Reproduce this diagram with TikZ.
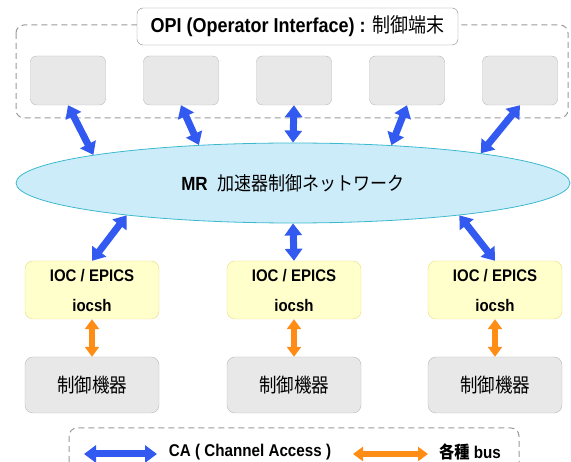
\documentclass[tikz,border=0pt]{standalone}
\usepackage{fontspec}
\setmainfont{Liberation Sans}
\newfontfamily\cjk{Noto Sans CJK JP}
\usepackage{xcolor}
\usepackage{graphicx}
\usetikzlibrary{positioning,arrows.meta,shapes.geometric}
\definecolor{caBlue}{RGB}{50,90,240}
\definecolor{busOrange}{RGB}{255,140,20}
\definecolor{boxGray}{RGB}{232,232,232}
\definecolor{boxEdge}{RGB}{185,185,185}
\definecolor{netFill}{RGB}{204,236,250}
\definecolor{netEdge}{RGB}{60,185,205}
\definecolor{iocFill}{RGB}{255,255,204}
\definecolor{iocEdge}{RGB}{235,220,130}
\newcommand{\tallTxt}[1]{\scalebox{1}[1.12]{#1}}
\begin{document}
\begin{tikzpicture}[
          x=1pt, y=-1pt,
          opibox/.style={draw=boxEdge, fill=boxGray, rounded corners=6pt, minimum width=75pt, minimum height=49pt, inner sep=0pt},
          iocbox/.style={draw=iocEdge, fill=iocFill, rounded corners=8pt, minimum width=134pt, minimum height=58pt, inner sep=0pt, align=center, font=\bfseries\fontsize{15}{30}\selectfont},
          devbox/.style={draw=boxEdge, fill=boxGray, rounded corners=8pt, minimum width=134pt, minimum height=56pt, inner sep=0pt, font=\cjk\fontsize{17.5}{20}\selectfont},
          dashframe/.style={draw=gray!80, dashed, dash pattern=on 6pt off 4pt, line width=1pt, rounded corners=8pt},
          caarrow/.style={draw=caBlue, line width=7pt, {Triangle[width=17pt,length=12pt]}-{Triangle[width=17pt,length=12pt]}, caBlue},
          busarrow/.style={draw=busOrange, line width=6pt, {Triangle[width=14pt,length=10pt]}-{Triangle[width=14pt,length=10pt]}, busOrange},
          lbl/.style={font=\bfseries\fontsize{15.2}{18}\selectfont}
      ]
        \useasboundingbox (0,0) rectangle (571,462);
        \clip (0,0) rectangle (571,462);
        % operator terminals
        \draw[dashframe] (16,25) rectangle (568,118);
        \node[draw=gray!90, fill=white, rounded corners=6pt, minimum width=321pt, minimum height=37pt, inner sep=0pt, font=\bfseries\fontsize{18}{20}\selectfont] (title) at (297.5,26.5) {\tallTxt{OPI (Operator Interface) : {\cjk\mdseries 制御端末}}};
        \foreach \i/\x in {1/68,2/181,3/294,4/407,5/520}
          \node[opibox] (o\i) at (\x,80.5) {};
        % network
        \node[ellipse, draw=netEdge, fill=netFill, line width=0.8pt, minimum width=554pt, minimum height=80pt, inner sep=0pt] (net) at (293,183)
          {\fontsize{17}{20}\selectfont\tallTxt{\textbf{MR}\hspace{10pt}{\cjk 加速器制御ネットワーク}}};
        % IOCs and devices
        \foreach \i/\x in {1/92,2/294,3/495} {
          \node[iocbox] (ioc\i) at (\x,290) {\tallTxt{IOC / EPICS}\\\tallTxt{iocsh}};
          \node[devbox] (dev\i) at (\x,385) {\tallTxt{制御機器}};
        }
        \draw[caarrow] (o1.south) -- (net.172);
        \draw[caarrow] (o2.south) -- (net.158);
        \draw[caarrow] (o3.south) -- (net.90);
        \draw[caarrow] (o4.south) -- (net.21);
        \draw[caarrow] (o5.south) -- (net.9);
        \draw[caarrow] (net.191) -- (ioc1.north);
        \draw[caarrow] (net.270) -- (ioc2.north);
        \draw[caarrow] (net.349) -- (ioc3.north);
        \foreach \i in {1,2,3}
          \draw[busarrow] (ioc\i.south) -- (dev\i.north);
        % legend
        \draw[dashframe] (69,428) rectangle (519,475);
        \coordinate (caL) at (84,454);
        \coordinate (caR) at (157,454);
        \coordinate (busL) at (353,454);
        \coordinate (busR) at (428,454);
        \draw[caarrow] (caL) -- (caR);
        \draw[busarrow] (busL) -- (busR);
        \node[lbl] (catext) at (250,452) {\tallTxt{CA ( Channel Access )}};
        \node[lbl] (bustext) at (470,452) {\tallTxt{{\cjk 各種} bus}};
      \end{tikzpicture}
\end{document}
